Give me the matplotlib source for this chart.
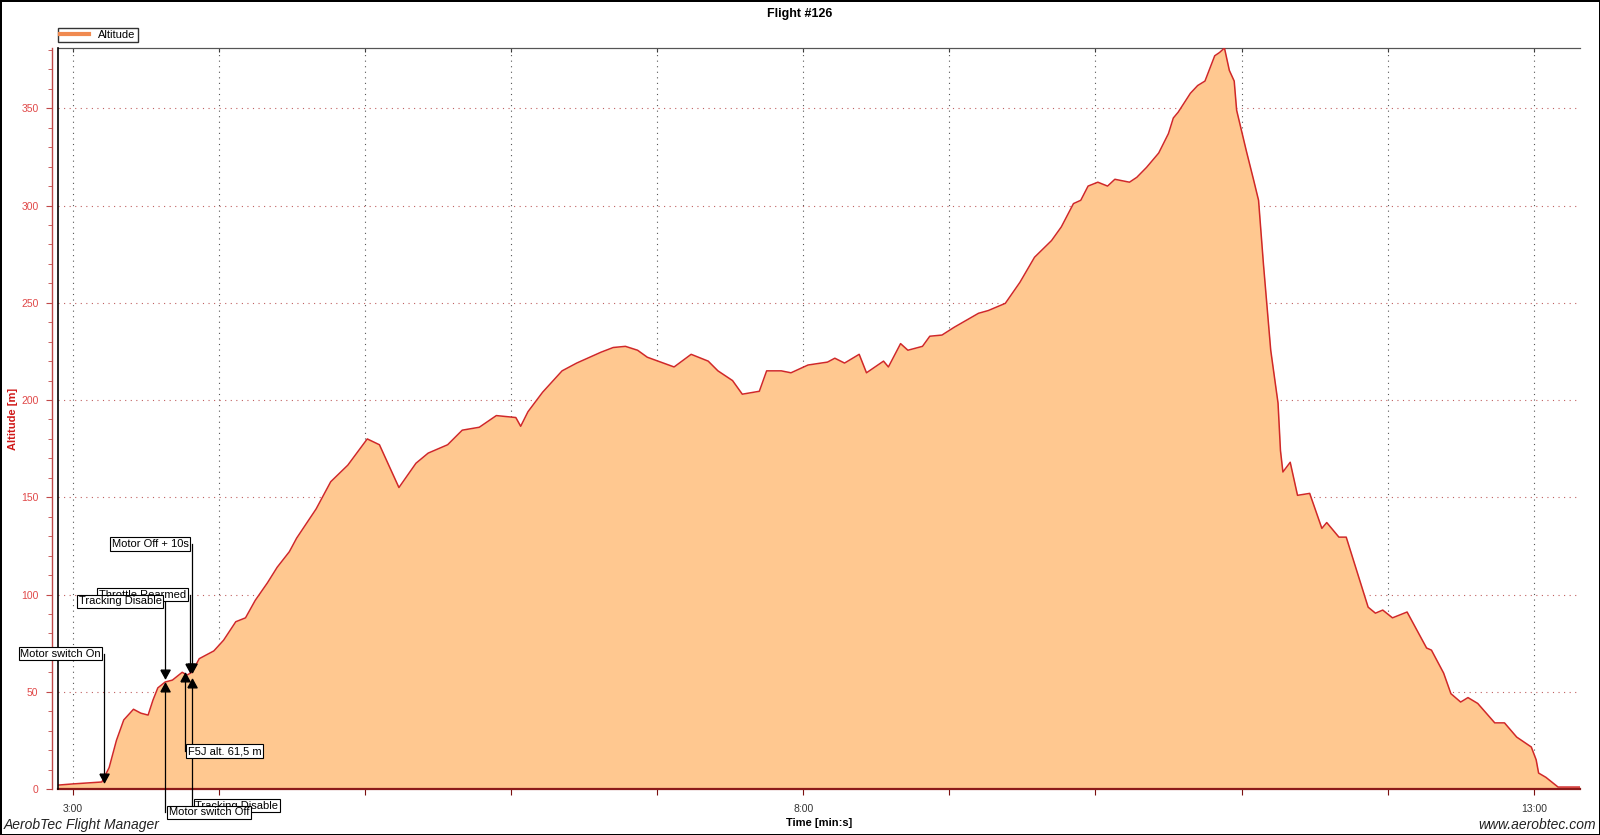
import matplotlib
matplotlib.use("Agg")
import matplotlib.pyplot as plt
from matplotlib.ticker import MultipleLocator, FuncFormatter
from matplotlib.lines import Line2D
from matplotlib.path import Path

plt.rcParams['font.family'] = ['Liberation Sans', 'DejaVu Sans']

# altitude trace, time as m:ss
time_labels = [
    "2:54", "3:00", "3:12", "3:15", "3:18", "3:21", "3:25", "3:28", "3:31", "3:33",
    "3:35", "3:38", "3:41", "3:45", "3:47", "3:49", "3:52", "3:58", "4:02", "4:07",
    "4:11", "4:15", "4:20", "4:24", "4:29", "4:32", "4:40", "4:46", "4:53", "5:01",
    "5:06", "5:14", "5:21", "5:26", "5:34", "5:40", "5:47", "5:54", "6:02", "6:04",
    "6:07", "6:13", "6:21", "6:27", "6:37", "6:42", "6:47", "6:52", "6:56", "7:07",
    "7:14", "7:21", "7:25", "7:31", "7:35", "7:42", "7:45", "7:51", "7:55", "8:02",
    "8:10", "8:13", "8:17", "8:23", "8:26", "8:33", "8:35", "8:40", "8:43", "8:49",
    "8:52", "8:57", "9:02", "9:12", "9:16", "9:23", "9:29", "9:35", "9:42", "9:46",
    "9:51", "9:54", "9:57", "10:01", "10:05", "10:08", "10:14", "10:17", "10:21", "10:26",
    "10:30", "10:32", "10:34", "10:39", "10:42", "10:45", "10:49", "10:51", "10:53", "10:55",
    "10:57", "10:58", "11:02", "11:05", "11:07", "11:09", "11:12", "11:15", "11:16", "11:17",
    "11:20", "11:23", "11:28", "11:33", "11:35", "11:40", "11:43", "11:52", "11:55", "11:58",
    "12:02", "12:08", "12:16", "12:18", "12:23", "12:26", "12:30", "12:33", "12:37", "12:44",
    "12:48", "12:53", "12:59", "13:01", "13:02", "13:05", "13:10", "13:19",
]
altitude = [
    2, 2.6, 3.6, 11, 25, 35.5, 41, 39, 38, 45.7,
    52, 55, 56, 60, 58.6, 60, 67, 71, 76.5, 86,
    88, 97, 106, 114, 122, 129, 144, 158, 166.5, 180,
    177, 155, 167.5, 172.7, 177, 184.5, 186, 192, 191, 186.5,
    194, 204, 215, 219, 224.6, 227, 227.6, 225.6, 222, 217,
    223.5, 220, 215, 210, 203, 204.5, 215, 215, 214, 218,
    219.5, 221.5, 219, 223.5, 214, 220, 217, 229, 225.6, 227.6,
    232.8, 233.4, 237.4, 244.6, 246, 249.7, 260.5, 273.4, 282, 289,
    301, 302.7, 310, 312, 310, 313.5, 312, 314.5, 319.6, 327,
    337, 345, 348, 357.7, 361.7, 364, 377, 378.7, 381, 369.5,
    364, 349, 328, 313, 302.7, 270, 225.6, 198.4, 174, 163,
    168, 151, 152, 134, 137, 129.5, 129.5, 93.5, 90.4, 92,
    88, 91, 72.5, 71.4, 59.6, 49, 44.7, 47, 44, 34,
    34, 26.7, 21.6, 15, 8.2, 6, 1, 1,
]

# flight events
event_names = ["Motor switch On", "Throttle Rearmed", "Tracking Disable", "Motor Off + 10s",
               "Tracking Disable", "Motor switch Off", "F5J alt. 61,5 m"]
event_times = ["3:13", "3:48", "3:38", "3:49", "3:49", "3:38", "3:46"]
event_alt = [3.5, 60, 57, 60, 56.5, 54.5, 59.5]
event_above = [True, True, True, True, False, False, False]
# where each label box sits (altitude units)
label_y = [69.5, 100, 96.5, 126, -8.5, -12, 19.5]


def to_min(s):
    m, sec = s.split(":")
    return int(m) + int(sec) / 60.0


t = [to_min(s) for s in time_labels]

fig = plt.figure(figsize=(16, 8.35), dpi=100)
fig.patch.set_edgecolor('black')
fig.patch.set_linewidth(2)
ax = fig.add_axes([58 / 1600, 1 - 789 / 835, (1580 - 58) / 1600, (789 - 48) / 835])

ax.fill_between(t, altitude, 0, color='#FFC890', lw=0, zorder=2)
ax.plot(t, altitude, color='#D02828', lw=1.1, zorder=3)

ax.set_xlim(to_min("2:54"), to_min("13:19"))
ax.set_ylim(0, 381)

# grid
ax.xaxis.set_major_locator(MultipleLocator(1))
ax.yaxis.set_major_locator(MultipleLocator(50))
ax.yaxis.set_minor_locator(MultipleLocator(10))
ax.grid(axis='x', which='major', color='#555555', ls=(0, (1, 4)), lw=0.8, zorder=1)
ax.grid(axis='y', which='major', color='#C06060', ls=(0, (1, 4)), lw=0.8, zorder=1)
ax.set_axisbelow(True)


def fmt_time(v, pos):
    m = int(round(v))
    if (m - 3) % 5 == 0:
        return "%d:00" % m
    return ""


ax.xaxis.set_major_formatter(FuncFormatter(fmt_time))
ax.tick_params(axis='x', which='major', direction='out', length=4, color='#7A1010',
               labelsize=7.5, labelcolor='#333333', pad=7)

ax.spines['right'].set_visible(False)
ax.spines['top'].set_color('#555555')
ax.spines['bottom'].set_color('#8B1A1A')
ax.spines['bottom'].set_linewidth(1.6)
ax.spines['left'].set_position(('outward', 4))
ax.spines['left'].set_color('#C04848')
ax.spines['left'].set_linewidth(1.0)
ax.tick_params(axis='y', which='both', direction='out', color='#C04848',
               labelsize=7.5, labelcolor='#E04848', pad=6)
ax.tick_params(axis='y', which='major', length=4)
ax.tick_params(axis='y', which='minor', length=3)

# black frame line on the left of the plot area
ax.add_line(Line2D([0, 0], [0, 1], transform=ax.transAxes, color='black', lw=1.2,
                   clip_on=False, zorder=5))

top = ax.secondary_xaxis('top')
top.xaxis.set_major_locator(MultipleLocator(1))
top.tick_params(direction='in', length=3, color='#333333', labeltop=False)
top.spines['top'].set_color('#555555')

ax.set_xlabel("Time [min:s]", fontsize=8, fontweight='bold', labelpad=3)
ax.set_ylabel("Altitude [m]", fontsize=8, fontweight='bold', color='#D01818')
ax.yaxis.set_label_coords(-0.0265, 0.5)

# event markers and labels
tip_down = Path([(-0.55, 1.0), (0.55, 1.0), (0, 0), (-0.55, 1.0)])
tip_up = Path([(-0.55, -1.0), (0.55, -1.0), (0, 0), (-0.55, -1.0)])
for i, name in enumerate(event_names):
    x = to_min(event_times[i])
    y = event_alt[i]
    ax.plot([x, x], [label_y[i], y], color='black', lw=0.9, clip_on=False, zorder=6)
    ax.plot([x], [y], marker=tip_down if event_above[i] else tip_up, ms=12,
            color='black', clip_on=False, zorder=7)
    ax.annotate(name, xy=(x, label_y[i]), xytext=(-2.5 if event_above[i] else 2.5, 0),
                textcoords='offset points', ha='right' if event_above[i] else 'left',
                va='center', fontsize=8, annotation_clip=False, zorder=8 + i,
                bbox=dict(boxstyle='square,pad=0.15', fc='white', ec='black', lw=0.8))

leg_handle = Line2D([], [], color='#F08A50', lw=3)
fig.legend([leg_handle], ["Altitude"], loc='lower left',
           bbox_to_anchor=(58 / 1600, 1 - 42 / 835), fontsize=8, frameon=True,
           fancybox=False, edgecolor='black', borderpad=0.2, handlelength=2.6,
           handletextpad=0.8, borderaxespad=0)

fig.text(0.5, 1 - 14 / 835, "Flight #126", ha='center', va='center', fontsize=9,
         fontweight='bold')
fig.text(4 / 1600, 1 - 825 / 835, "AerobTec Flight Manager", ha='left', va='center',
         fontsize=10, style='italic', color='#222222')
fig.text(1596 / 1600, 1 - 825 / 835, "www.aerobtec.com", ha='right', va='center',
         fontsize=10, style='italic', color='#222222')

fig.savefig("out.png", dpi=100, edgecolor=fig.get_edgecolor())
